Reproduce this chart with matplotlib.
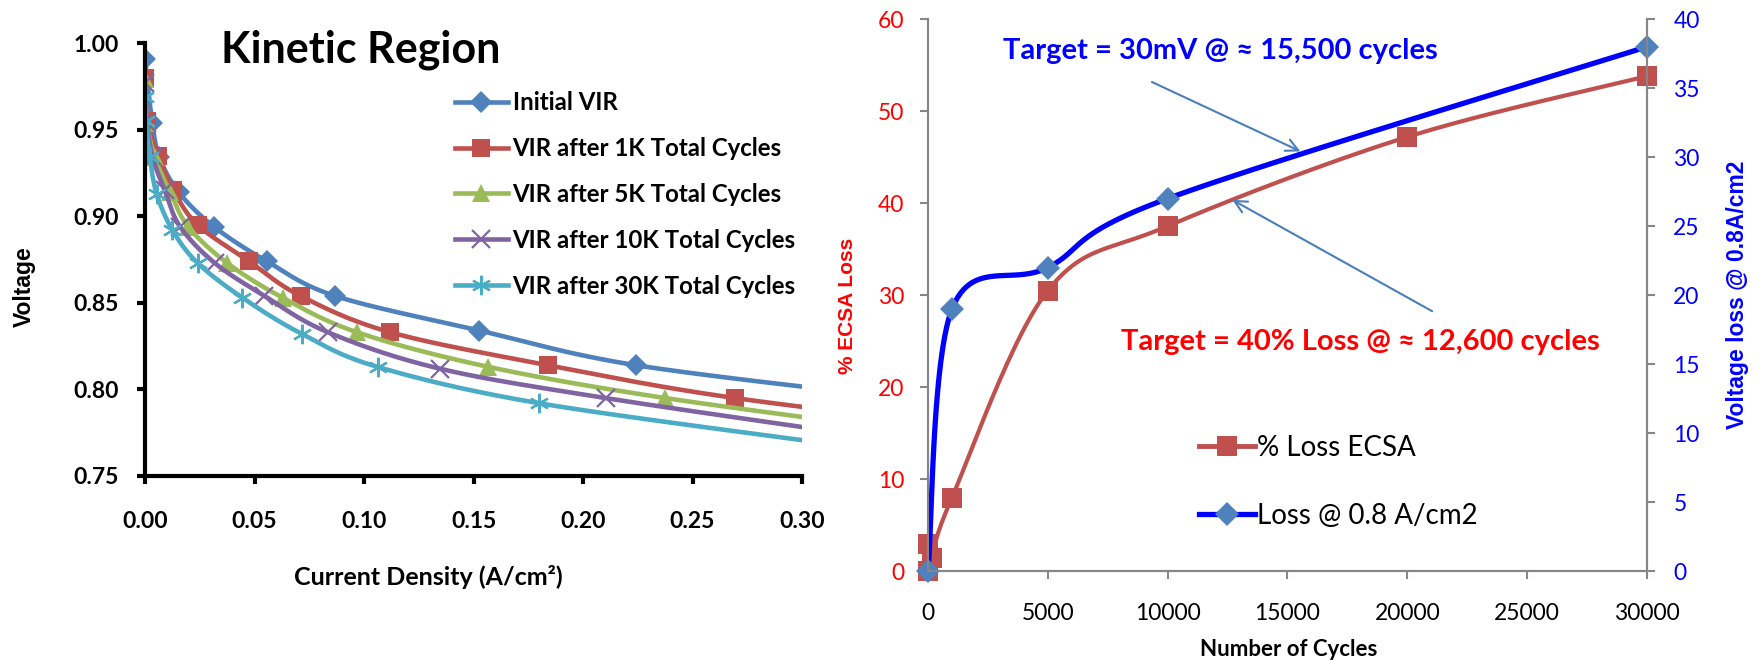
import numpy as np
import matplotlib
matplotlib.use("Agg")
import matplotlib.pyplot as plt
from matplotlib.lines import Line2D

CAL = ['Lato', 'DejaVu Sans']               # stands in for Calibri
ARIAL = ['Liberation Sans', 'DejaVu Sans']

# ---- left chart: VIR curves (current density A/cm2, voltage V) ----
vir_labels = ["Initial VIR", "VIR after 1K Total Cycles", "VIR after 5K Total Cycles",
              "VIR after 10K Total Cycles", "VIR after 30K Total Cycles"]
vir_colors = ["#4F81BD", "#C0504D", "#9BBB59", "#8064A2", "#4BACC6"]

cur_initial = [0.0, 0.0033, 0.0066, 0.0153, 0.0314, 0.0556, 0.0867, 0.1526, 0.224, 0.345]
volt_initial = [0.991, 0.954, 0.934, 0.914, 0.894, 0.874, 0.854, 0.834, 0.814, 0.795]
cur_1k = [0.0, 0.001, 0.006, 0.0130, 0.0240, 0.0475, 0.0710, 0.1120, 0.1838, 0.2694, 0.40]
volt_1k = [0.980, 0.955, 0.935, 0.915, 0.895, 0.874, 0.854, 0.833, 0.814, 0.795, 0.775]
cur_5k = [0.0, 0.001, 0.0045, 0.0115, 0.0197, 0.0375, 0.0628, 0.0968, 0.1568, 0.2376, 0.355]
volt_5k = [0.979, 0.954, 0.934, 0.914, 0.894, 0.873, 0.853, 0.833, 0.813, 0.795, 0.775]
cur_10k = [0.0, 0.001, 0.0035, 0.009, 0.0160, 0.0318, 0.0545, 0.0835, 0.1345, 0.2103, 0.318]
volt_10k = [0.977, 0.954, 0.934, 0.915, 0.894, 0.873, 0.854, 0.833, 0.812, 0.795, 0.775]
cur_30k = [0.0, 0.0005, 0.0022, 0.0053, 0.0125, 0.0240, 0.0444, 0.0717, 0.1062, 0.180, 0.31]
volt_30k = [0.969, 0.955, 0.934, 0.913, 0.892, 0.873, 0.853, 0.832, 0.813, 0.792, 0.769]

vir_x = [cur_initial, cur_1k, cur_5k, cur_10k, cur_30k]
vir_y = [volt_initial, volt_1k, volt_5k, volt_10k, volt_30k]

# ---- right chart: degradation vs cycles ----
ecsa_cycles = [0, 0, 150, 1000, 5000, 10000, 20000, 30000]
ecsa_loss = [3.0, 0.0, 1.4, 8.0, 30.5, 37.5, 47.2, 53.8]
volt_cycles = [0, 1000, 5000, 10000, 30000]
volt_loss = [0.0, 19.0, 22.0, 27.0, 38.0]


def smooth(x, y, n=30):
    # Excel style smoothed line (uniform Catmull-Rom)
    p = np.column_stack([x, y]).astype(float)
    p = np.vstack([p[0], p, p[-1]])
    out = []
    t = np.linspace(0, 1, n)[:, None]
    for i in range(1, len(p) - 2):
        p0, p1, p2, p3 = p[i - 1], p[i], p[i + 1], p[i + 2]
        seg = 0.5 * ((2 * p1) + (-p0 + p2) * t + (2 * p0 - 5 * p1 + 4 * p2 - p3) * t ** 2
                     + (-p0 + 3 * p1 - 3 * p2 + p3) * t ** 3)
        out.append(seg)
    s = np.vstack(out)
    return s[:, 0], s[:, 1]


# marker style per series (Excel 2007 defaults)
vir_marker_kw = [
    dict(marker='D', markersize=11, markeredgewidth=0),
    dict(marker='s', markersize=13, markeredgewidth=0),
    dict(marker='^', markersize=13, markeredgewidth=0),
    dict(marker='x', markersize=13, markeredgewidth=1.6),
    dict(marker=(6, 2, 0), markersize=14, markeredgewidth=1.6),
]

fig = plt.figure(figsize=(17.62, 6.61), dpi=100)

# ================= left chart =================
ax1 = fig.add_axes([0.0823, 0.2799, 0.3729, 0.655])
handles = []
for xs, ys, c, mk, lab in zip(vir_x, vir_y, vir_colors, vir_marker_kw, vir_labels):
    sx, sy = smooth(xs, ys)
    ax1.plot(sx, sy, color=c, lw=3.3)
    ax1.plot(xs, ys, ls='none', color=c, markeredgecolor=c, **mk)
    handles.append(Line2D([], [], color=c, lw=3.3, markeredgecolor=c, **mk))

ax1.set_xlim(0, 0.30)
ax1.set_ylim(0.75, 1.00)
xt = np.arange(0, 0.301, 0.05)
yt = np.arange(0.75, 1.001, 0.05)
ax1.set_xticks(xt)
ax1.set_yticks(yt)
ax1.set_xticklabels([f"{v:.2f}" for v in xt], family=CAL, fontweight='bold', fontsize=16.5)
ax1.set_yticklabels([f"{v:.2f}" for v in yt], family=CAL, fontweight='bold', fontsize=16.5)
for side in ("top", "right"):
    ax1.spines[side].set_visible(False)
for side in ("left", "bottom"):
    ax1.spines[side].set_linewidth(3.0)
ax1.tick_params(direction='out', width=3, length=6, color='black')
ax1.tick_params(axis='x', pad=19)
ax1.tick_params(axis='y', pad=13)
ax1.set_ylabel("Voltage", family=ARIAL, fontweight='bold', fontsize=16.5)
ax1.yaxis.set_label_coords(-0.184, 0.4365)
ax1.yaxis.label.set_va('center')
ax1.set_xlabel("Current Density (A/cm\u00b2)", family=CAL, fontweight='bold', fontsize=18)
ax1.xaxis.set_label_coords(0.431, -0.233)
ax1.xaxis.label.set_va('center')
ax1.text(0.2049, 1 - 62 / 661, "Kinetic Region", transform=fig.transFigure, family=CAL,
         fontweight='bold', fontsize=31, va='baseline', ha='center')
fig.legend(handles, vir_labels, loc='upper left', bbox_to_anchor=(0.2582, 0.862),
           frameon=False, prop=dict(family=CAL, weight='bold', size=17.3),
           handlelength=2.2, handletextpad=0.2, labelspacing=0.95, borderpad=0,
           borderaxespad=0)

# ================= right chart =================
ax2 = fig.add_axes([0.5267, 0.136, 0.408, 0.835])
ax3 = ax2.twinx()
sx, sy = smooth(ecsa_cycles, ecsa_loss)
ax2.plot(sx, sy, color="#C0504D", lw=3.0)
ax2.plot(ecsa_cycles, ecsa_loss, ls='none', marker='s', markersize=14, color="#C0504D",
         markeredgewidth=0, clip_on=False)
sx, sy = smooth(volt_cycles, volt_loss)
ax3.plot(sx, sy, color="#0000FF", lw=3.8)
ax3.plot(volt_cycles, volt_loss, ls='none', marker='D', markersize=12, color="#4F81BD",
         markeredgewidth=0, clip_on=False)

ax2.set_xlim(0, 30000)
ax2.set_ylim(0, 60)
ax3.set_ylim(0, 40)
ax2.set_xticks(range(0, 30001, 5000))
ax2.set_yticks(range(0, 61, 10))
ax3.set_yticks(range(0, 41, 5))
gray = "#868686"
for a in (ax2, ax3):
    a.spines['top'].set_visible(False)
    for side in ("left", "right", "bottom"):
        a.spines[side].set_color(gray)
        a.spines[side].set_linewidth(1.5)
ax2.tick_params(axis='x', direction='out', color=gray, width=1.5, length=6, pad=17,
                labelsize=16.5, labelcolor='black')
ax2.tick_params(axis='y', direction='out', color=gray, width=1.5, length=6, pad=11,
                labelsize=16.5, labelcolor='#FF0000')
ax3.tick_params(axis='y', direction='out', color=gray, width=1.5, length=6, pad=13,
                labelsize=16.5, labelcolor='#0000FF')
for lab in ax2.get_xticklabels() + ax2.get_yticklabels() + ax3.get_yticklabels():
    lab.set_family(CAL)

ax2.set_xlabel("Number of Cycles", family=CAL, fontweight='bold', fontsize=16)
ax2.xaxis.set_label_coords(0.502, -0.1413)
ax2.xaxis.label.set_va('center')
ax2.set_ylabel("% ECSA Loss", family=ARIAL, fontweight='bold', fontsize=15, color='#FF0000')
ax2.yaxis.set_label_coords(-0.1127, 0.48)
ax2.yaxis.label.set_va('center')
ax3.set_ylabel("Voltage loss @ 0.8A/cm2", family=ARIAL, fontweight='bold', fontsize=16.5,
               color='#0000FF')
ax3.yaxis.set_label_coords(1.1266, 0.5)
ax3.yaxis.label.set_va('center')

arrow = dict(arrowstyle='->', color='#4A7EBB', lw=1.5, mutation_scale=22)
ax2.annotate("", xy=(15646, 45.5), xytext=(9237, 53.3), arrowprops=arrow)
ax2.annotate("", xy=(12600, 40.5), xytext=(21140, 28.1), arrowprops=arrow)
ax2.text(12184, 56.5, "Target = 30mV @ \u2248 15,500 cycles", color='#0000FF', family=CAL,
         fontweight='bold', fontsize=21, ha='center', va='center')
ax2.text(18025, 24.9, "Target = 40% Loss @ \u2248 12,600 cycles", color='#FF0000', family=CAL,
         fontweight='bold', fontsize=21, ha='center', va='center')

h_ecsa = Line2D([], [], color="#C0504D", lw=3.5, marker='s', markersize=14, markeredgewidth=0)
h_volt = Line2D([], [], color="#0000FF", lw=3.8, marker='D', markersize=12,
                markerfacecolor="#4F81BD", markeredgewidth=0)
fig.legend([h_ecsa, h_volt], ["% Loss ECSA", "Loss @ 0.8 A/cm2"], loc='upper left',
           bbox_to_anchor=(0.6805, 0.342), frameon=False,
           prop=dict(family=CAL, size=20), handlelength=2.0, handletextpad=0.1,
           labelspacing=1.5, borderpad=0, borderaxespad=0)

fig.savefig("out.png", dpi=100)
